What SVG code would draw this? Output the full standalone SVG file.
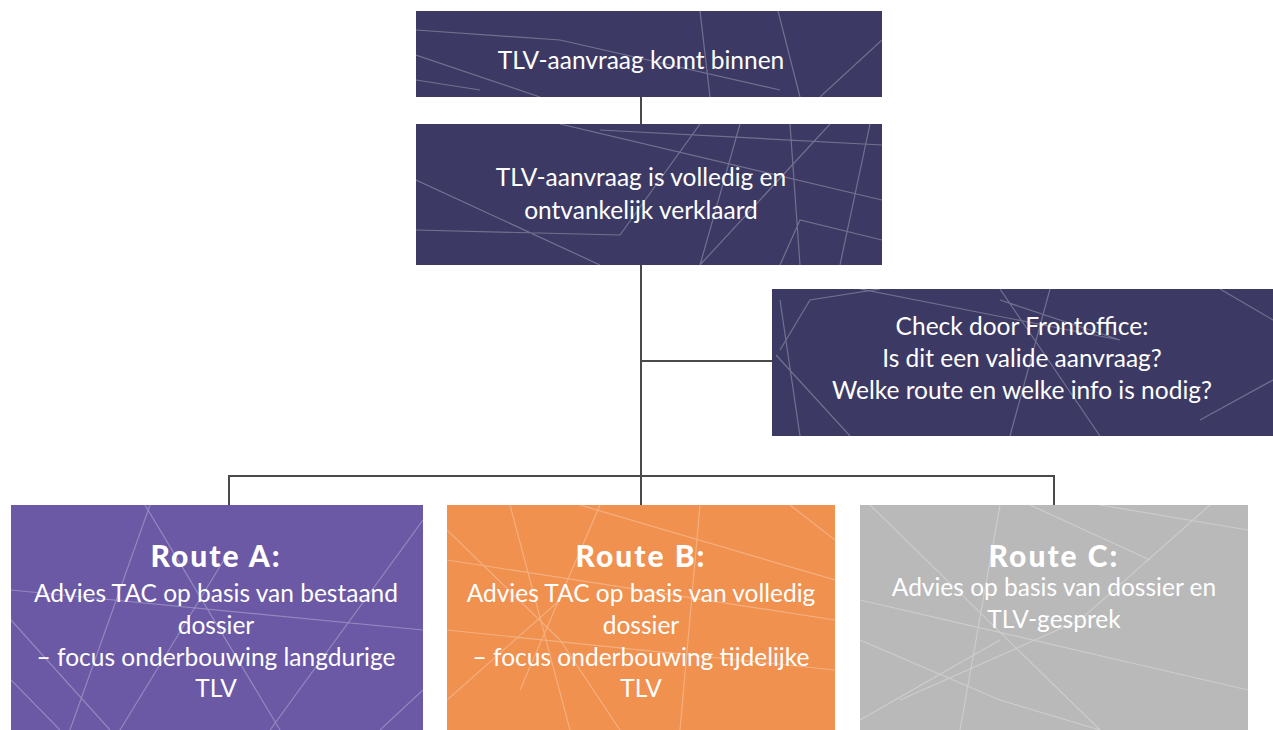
<svg xmlns="http://www.w3.org/2000/svg" width="1273" height="730" viewBox="0 0 1273 730">
<defs>
<style>
.navy{fill:#3c3a64}
.t{font-family:Lato,"Open Sans","DejaVu Sans",sans-serif;fill:#ffffff;text-anchor:middle;font-size:24.5px}
.tb{font-weight:900;font-size:30px;letter-spacing:2px}
.deco{stroke:#ffffff;stroke-opacity:0.28;stroke-width:1.2;fill:none}
.conn{stroke:#4a4a4a;stroke-width:2;fill:none}
</style>
<clipPath id="c1"><rect x="416" y="11" width="466" height="86"/></clipPath>
<clipPath id="c2"><rect x="416" y="124" width="466" height="141"/></clipPath>
<clipPath id="c3"><rect x="772" y="289" width="501" height="147"/></clipPath>
<clipPath id="cA"><rect x="11" y="505" width="412" height="225"/></clipPath>
<clipPath id="cB"><rect x="447" y="505" width="388" height="225"/></clipPath>
<clipPath id="cC"><rect x="860" y="505" width="388" height="225"/></clipPath>
</defs>
<rect width="1273" height="730" fill="#ffffff"/>
<g id="connectors">
<path class="conn" d="M641 97V124M641 265V476M641 361H772M229 505V476H1054V505M641 476V505"/>
</g>
<g id="n1">
<rect class="navy" x="416" y="11" width="466" height="86"/>
<g class="deco" clip-path="url(#c1)">
<path d="M416 30L560 40L780 90M416 55L540 97M700 11L710 97M778 11L800 97M882 40L820 97M416 80L480 90"/>
</g>
<text class="t" x="641" y="69">TLV-aanvraag komt binnen</text>
</g>
<g id="n2">
<rect class="navy" x="416" y="124" width="466" height="141"/>
<g class="deco" clip-path="url(#c2)">
<path d="M560 124L882 200M416 180L600 265M416 230L620 235L700 124M740 124L700 265M790 124L800 265M870 124L840 265M882 145L600 130M882 240L800 220L780 265M830 124L700 265"/>
</g>
<text class="t" x="641" y="186">TLV-aanvraag is volledig en</text>
<text class="t" x="641" y="219">ontvankelijk verklaard</text>
</g>
<g id="n3">
<rect class="navy" x="772" y="289" width="501" height="147"/>
<g class="deco" clip-path="url(#c3)">
<path d="M780 350L810 300L880 289M776 355L850 436M780 300L800 436M860 289L1120 340L1000 300M1050 289L1010 436M1220 289L1273 320M1000 289L1100 436M1200 420L1273 380"/>
</g>
<text class="t" x="1022" y="335">Check door Frontoffice:</text>
<text class="t" x="1022" y="367">Is dit een valide aanvraag?</text>
<text class="t" x="1022" y="399">Welke route en welke info is nodig?</text>
</g>
<g id="routeA">
<rect x="11" y="505" width="412" height="225" fill="#6b59a6"/>
<g class="deco" clip-path="url(#cA)">
<path d="M150 505L70 730M145 505L280 730M11 590L423 630M11 620L110 730M423 520L270 730M230 550L120 730M380 730L423 690M11 680L60 730"/>
</g>
<text class="t tb" x="216" y="567">Route A:</text>
<text class="t" x="216" y="602">Advies TAC op basis van bestaand</text>
<text class="t" x="216" y="634">dossier</text>
<text class="t" x="216" y="666">– focus onderbouwing langdurige</text>
<text class="t" x="216" y="697">TLV</text>
</g>
<g id="routeB">
<rect x="447" y="505" width="388" height="225" fill="#f0914f"/>
<g class="deco" clip-path="url(#cB)">
<path d="M447 530L560 640L620 730M510 505L570 730M600 505L520 690M580 505L835 580M447 630L835 670M700 505L680 730M790 505L835 540M447 700L560 600M447 560L835 620"/>
</g>
<text class="t tb" x="641" y="567">Route B:</text>
<text class="t" x="641" y="602">Advies TAC op basis van volledig</text>
<text class="t" x="641" y="634">dossier</text>
<text class="t" x="641" y="666">– focus onderbouwing tijdelijke</text>
<text class="t" x="641" y="697">TLV</text>
</g>
<g id="routeC">
<rect x="860" y="505" width="388" height="225" fill="#b9b9b9"/>
<g class="deco" clip-path="url(#cC)">
<path d="M1000 505L960 730M1030 505L1150 560M1210 505L1080 620L900 700M860 600L1248 690M860 640L1000 700L1100 730M860 720L1000 640M1100 505L1248 530M870 505L1100 730"/>
</g>
<text class="t tb" x="1054" y="567">Route C:</text>
<text class="t" x="1054" y="596">Advies op basis van dossier en</text>
<text class="t" x="1054" y="628">TLV-gesprek</text>
</g>
</svg>
